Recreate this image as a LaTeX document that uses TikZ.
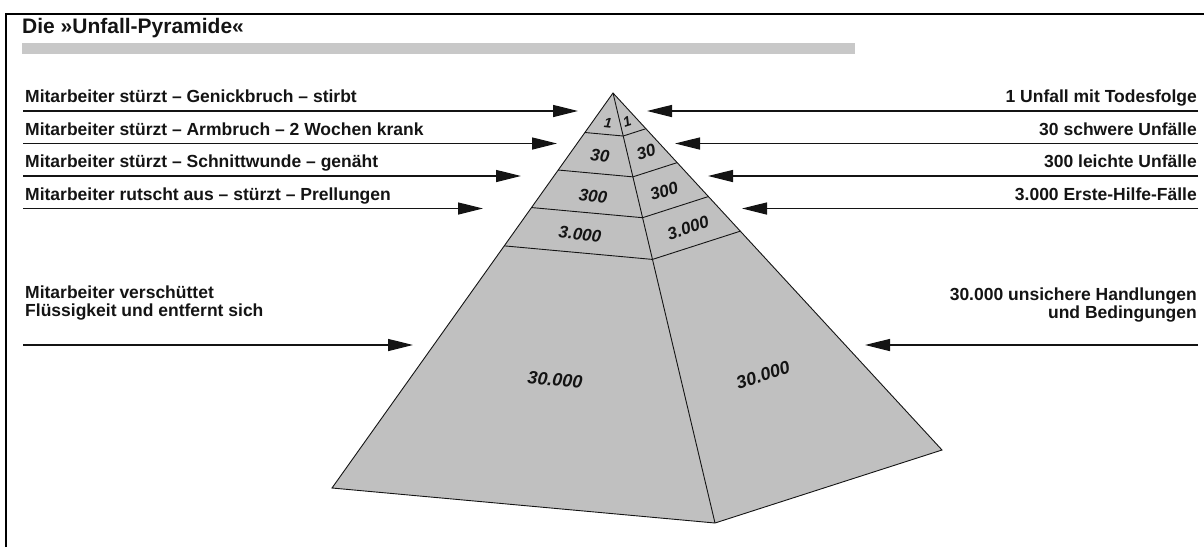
\documentclass[tikz,border=0pt]{standalone}
\usepackage{fontspec}
\setmainfont{Liberation Sans}
\usepackage{tikz}
\usetikzlibrary{arrows.meta,calc}
\definecolor{pyramidgray}{RGB}{192, 192, 192}
\definecolor{bargray}{RGB}{200, 200, 200}
\definecolor{inkblack}{RGB}{20, 20, 20}

\begin{document}
\begin{tikzpicture}[x=1pt, y=-1pt, >={Triangle[length=25pt, width=12pt]},
    lefttext/.style={anchor=base west, inner sep=0pt, align=left, text=inkblack,
        font=\fontsize{17.5}{18}\selectfont\bfseries},
    righttext/.style={anchor=base east, inner sep=0pt, align=right, text=inkblack,
        font=\fontsize{17.5}{18}\selectfont\bfseries},
    pointer/.style={->, line width=1.3pt, color=inkblack},
    facenum/.style={inner sep=0pt, text=inkblack, font=\fontsize{17}{17}\selectfont\bfseries\itshape},
    edge/.style={line width=0.9pt, color=inkblack}]
    \useasboundingbox (0,0) rectangle (1204,547);

    % Frame
    \draw[line width=2pt] (6,547) -- (6,14) -- (1204,14);

    % Title with grey bar
    \node[anchor=base west, inner sep=0pt, text=inkblack, font=\fontsize{21}{21}\selectfont\bfseries] (title) at (22,33) {Die »Unfall-Pyramide«};
    \fill[bargray] (22,43) rectangle (855,54);

    % Pyramid
    \coordinate (A) at (613,93);
    \coordinate (L) at (332,488);
    \coordinate (F) at (715,523);
    \coordinate (R) at (942,450);
    \filldraw[edge, fill=pyramidgray] (A) -- (L) -- (F) -- (R) -- cycle;
    \draw[edge] (A) -- (F);
    \foreach \t in {0.1, 0.195, 0.29, 0.387}
        \draw[edge] ($(A)!\t!(L)$) -- ($(A)!\t!(F)$) -- ($(A)!\t!(R)$);

    % Numbers on the faces
    \node[facenum, font=\fontsize{14}{14}\selectfont\bfseries\itshape, rotate=-6] (n1l) at (608,123) {1};
    \node[facenum, font=\fontsize{14}{14}\selectfont\bfseries\itshape, rotate=18] (n1r) at (627,122) {1};
    \node[facenum, rotate=-6] (n2l) at (600,156) {30};
    \node[facenum, rotate=18] (n2r) at (646,152) {30};
    \node[facenum, rotate=-6] (n3l) at (593,196) {300};
    \node[facenum, rotate=18] (n3r) at (664,191) {300};
    \node[facenum, rotate=-6] (n4l) at (580,234) {3.000};
    \node[facenum, rotate=18] (n4r) at (688,228) {3.000};
    \node[facenum, font=\fontsize{18}{18}\selectfont\bfseries\itshape, rotate=-5] (n5l) at (555,380) {30.000};
    \node[facenum, font=\fontsize{18}{18}\selectfont\bfseries\itshape, rotate=18] (n5r) at (763,375) {30.000};

    % Left: what happened
    \node[lefttext] (cause1) at (25,102.5) {Mitarbeiter stürzt – Genickbruch – stirbt};
    \node[lefttext] (cause2) at (25,135) {Mitarbeiter stürzt – Armbruch – 2 Wochen krank};
    \node[lefttext] (cause3) at (25,167.5) {Mitarbeiter stürzt – Schnittwunde – genäht};
    \node[lefttext] (cause4) at (25,200) {Mitarbeiter rutscht aus – stürzt – Prellungen};
    \node[lefttext] (cause5) at (25,316) {Mitarbeiter verschüttet\\Flüssigkeit und entfernt sich};
    \coordinate (cause1start) at (23,111);   \coordinate (cause1tip) at (578,111);
    \coordinate (cause2start) at (23,143.5); \coordinate (cause2tip) at (557,143.5);
    \coordinate (cause3start) at (23,176);   \coordinate (cause3tip) at (521,176);
    \coordinate (cause4start) at (23,208.5); \coordinate (cause4tip) at (483,208.5);
    \coordinate (cause5start) at (23,345);   \coordinate (cause5tip) at (413,345);
    \draw[pointer] (cause1start) -- (cause1tip);
    \draw[pointer] (cause2start) -- (cause2tip);
    \draw[pointer] (cause3start) -- (cause3tip);
    \draw[pointer] (cause4start) -- (cause4tip);
    \draw[pointer] (cause5start) -- (cause5tip);

    % Right: counts
    \node[righttext] (count1) at (1197,102.5) {1 Unfall mit Todesfolge};
    \node[righttext] (count2) at (1197,135) {30 schwere Unfälle};
    \node[righttext] (count3) at (1197,167.5) {300 leichte Unfälle};
    \node[righttext] (count4) at (1197,200) {3.000 Erste-Hilfe-Fälle};
    \node[righttext] (count5) at (1197,318) {30.000 unsichere Handlungen\\und Bedingungen};
    \coordinate (count1start) at (1198,111);   \coordinate (count1tip) at (647,111);
    \coordinate (count2start) at (1198,143.5); \coordinate (count2tip) at (675,143.5);
    \coordinate (count3start) at (1198,176);   \coordinate (count3tip) at (708,176);
    \coordinate (count4start) at (1198,208.5); \coordinate (count4tip) at (742,208.5);
    \coordinate (count5start) at (1198,345);   \coordinate (count5tip) at (865,345);
    \draw[pointer] (count1start) -- (count1tip);
    \draw[pointer] (count2start) -- (count2tip);
    \draw[pointer] (count3start) -- (count3tip);
    \draw[pointer] (count4start) -- (count4tip);
    \draw[pointer] (count5start) -- (count5tip);
\end{tikzpicture}
\end{document}
